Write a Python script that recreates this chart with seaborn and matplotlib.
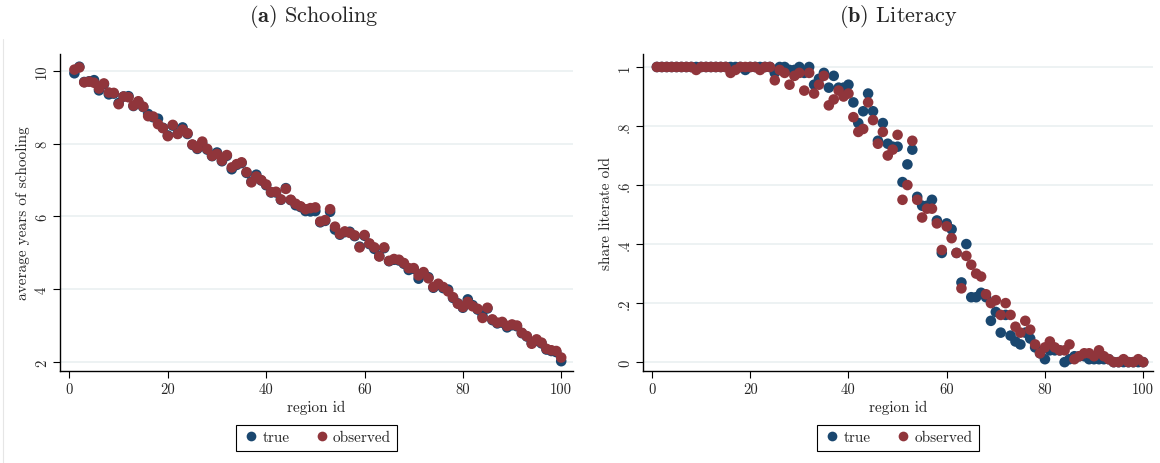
import numpy as np
import pandas as pd
import matplotlib
matplotlib.use("Agg")
import matplotlib.pyplot as plt
from matplotlib.lines import Line2D
import seaborn as sns

# ---------------- data ----------------
region_id = list(range(1, 101))

school_observed = [
    10.04, 10.10, 9.69, 9.71, 9.68, 9.52, 9.66, 9.41, 9.40, 9.09,
    9.30, 9.28, 9.05, 9.17, 9.02, 8.76, 8.75, 8.54, 8.43, 8.21,
    8.52, 8.27, 8.39, 8.29, 7.98, 7.88, 8.06, 7.86, 7.67, 7.72,
    7.54, 7.69, 7.35, 7.44, 7.49, 7.22, 6.94, 7.10, 7.00, 6.88,
    6.67, 6.68, 6.47, 6.76, 6.46, 6.35, 6.28, 6.20, 6.23, 6.25,
    5.86, 5.90, 6.20, 5.72, 5.52, 5.59, 5.55, 5.48, 5.15, 5.49,
    5.26, 5.15, 4.90, 5.15, 4.78, 4.83, 4.81, 4.72, 4.58, 4.58,
    4.38, 4.47, 4.30, 4.06, 4.15, 4.06, 3.94, 3.78, 3.60, 3.51,
    3.65, 3.53, 3.46, 3.21, 3.49, 3.17, 3.08, 3.10, 2.99, 3.03,
    3.00, 2.80, 2.71, 2.50, 2.62, 2.53, 2.36, 2.32, 2.30, 2.12,
]
school_true = [
    9.94, 10.12, 9.70, 9.72, 9.75, 9.47, 9.64, 9.36, 9.38, 9.12,
    9.30, 9.31, 9.04, 9.15, 9.01, 8.82, 8.73, 8.69, 8.44, 8.23,
    8.50, 8.28, 8.45, 8.27, 7.97, 7.86, 8.00, 7.84, 7.66, 7.76,
    7.52, 7.67, 7.30, 7.42, 7.47, 7.20, 6.96, 7.15, 6.99, 6.86,
    6.66, 6.66, 6.46, 6.78, 6.45, 6.31, 6.26, 6.15, 6.14, 6.15,
    5.84, 5.88, 6.13, 5.64, 5.50, 5.57, 5.58, 5.46, 5.17, 5.47,
    5.24, 5.11, 4.91, 5.13, 4.77, 4.81, 4.79, 4.70, 4.53, 4.56,
    4.29, 4.45, 4.33, 4.04, 4.13, 4.03, 3.99, 3.76, 3.61, 3.49,
    3.72, 3.56, 3.44, 3.26, 3.47, 3.15, 3.06, 3.08, 2.95, 3.01,
    2.98, 2.79, 2.70, 2.52, 2.58, 2.51, 2.34, 2.30, 2.27, 2.02,
]

lit_true = [
    1.00, 1.00, 1.00, 1.00, 1.00, 1.00, 1.00, 1.00, 1.00, 1.00,
    1.00, 1.00, 1.00, 1.00, 1.00, 1.00, 1.00, 1.00, 0.99, 1.00,
    1.00, 1.00, 1.00, 1.00, 0.98, 1.00, 1.00, 0.99, 0.99, 1.00,
    0.98, 1.00, 0.94, 0.96, 0.98, 0.93, 0.97, 0.93, 0.93, 0.94,
    0.88, 0.81, 0.85, 0.91, 0.85, 0.75, 0.81, 0.74, 0.73, 0.73,
    0.61, 0.67, 0.72, 0.56, 0.53, 0.53, 0.55, 0.48, 0.37, 0.47,
    0.45, 0.37, 0.27, 0.40, 0.22, 0.22, 0.235, 0.22, 0.14, 0.17,
    0.10, 0.16, 0.09, 0.07, 0.06, 0.10, 0.08, 0.05, 0.03, 0.01,
    0.04, 0.04, 0.04, 0.00, 0.01, 0.02, 0.02, 0.02, 0.01, 0.01,
    0.01, 0.01, 0.01, 0.00, 0.00, 0.00, 0.00, 0.00, 0.00, 0.00,
]
lit_observed = [
    1.00, 1.00, 1.00, 1.00, 1.00, 1.00, 1.00, 1.00, 0.99, 1.00,
    1.00, 1.00, 1.00, 1.00, 1.00, 0.98, 0.99, 1.00, 1.00, 1.00,
    1.00, 0.99, 1.00, 1.00, 0.955, 0.99, 0.98, 0.94, 0.97, 0.98,
    0.92, 0.98, 0.91, 0.94, 0.97, 0.87, 0.89, 0.92, 0.90, 0.91,
    0.83, 0.78, 0.79, 0.88, 0.82, 0.74, 0.78, 0.70, 0.72, 0.77,
    0.55, 0.60, 0.75, 0.55, 0.49, 0.52, 0.52, 0.47, 0.38, 0.46,
    0.42, 0.37, 0.25, 0.36, 0.33, 0.30, 0.29, 0.23, 0.20, 0.21,
    0.16, 0.20, 0.16, 0.12, 0.10, 0.14, 0.11, 0.06, 0.03, 0.05,
    0.07, 0.05, 0.04, 0.04, 0.06, 0.01, 0.02, 0.03, 0.03, 0.02,
    0.04, 0.02, 0.01, 0.00, 0.00, 0.01, 0.00, 0.00, 0.01, 0.00,
]

series_names = ["true", "observed"]
x_ticks = [0, 20, 40, 60, 80, 100]
school_ticks = [2, 4, 6, 8, 10]
school_ticklabels = ["2", "4", "6", "8", "10"]
lit_ticks = [0, 0.2, 0.4, 0.6, 0.8, 1.0]
lit_ticklabels = ["0", ".2", ".4", ".6", ".8", "1"]

# ---------------- style ----------------
sns.set_theme(style="white")
plt.rcParams["font.family"] = ["cmr10", "DejaVu Serif"]
plt.rcParams["axes.formatter.use_mathtext"] = True
plt.rcParams["mathtext.fontset"] = "cm"

NAVY = "#1a476f"
MAROON = "#90353b"
GRID = "#e8eff0"
palette = {"true": NAVY, "observed": MAROON}


def long_df(t, o):
    return pd.DataFrame({
        "region id": region_id * 2,
        "value": list(t) + list(o),
        "series": ["true"] * len(t) + ["observed"] * len(o),
    })


fig = plt.figure(figsize=(11.6, 4.64), dpi=100)
ax1 = fig.add_axes([60 / 1160, 92 / 464, 513 / 1160, 317 / 464])
ax2 = fig.add_axes([643 / 1160, 92 / 464, 510 / 1160, 317 / 464])

panels = [
    (ax1, long_df(school_true, school_observed), (1.75, 10.47), school_ticks,
     school_ticklabels, "average years of schooling", (-1.93, 102.4)),
    (ax2, long_df(lit_true, lit_observed), (-0.03, 1.044), lit_ticks,
     lit_ticklabels, "share literate old", (-1.83, 102.0)),
]

for ax, df, ylim, yt, ytl, ylab, xlim in panels:
    sns.scatterplot(data=df, x="region id", y="value", hue="series",
                    hue_order=series_names, palette=palette, s=58,
                    linewidth=0, edgecolor="none", alpha=1, ax=ax,
                    legend=False, zorder=3)
    ax.set_xlim(*xlim)
    ax.set_ylim(*ylim)
    ax.set_xticks(x_ticks)
    ax.set_xticklabels([str(v) for v in x_ticks])
    ax.set_yticks(yt)
    ax.set_yticklabels(ytl, rotation=90, va="center")
    ax.set_xlabel("region id", fontsize=11, labelpad=3)
    ax.set_ylabel(ylab, fontsize=11, labelpad=4)
    ax.tick_params(axis="both", which="major", direction="out", length=5,
                   width=0.8, color="black", labelsize=10.5, pad=3,
                   bottom=True, left=True)
    ax.grid(axis="y", color=GRID, linewidth=1.1, zorder=0)
    ax.grid(axis="x", visible=False)
    ax.set_axisbelow(True)
    for side in ["top", "right"]:
        ax.spines[side].set_visible(False)
    for side in ["left", "bottom"]:
        ax.spines[side].set_visible(True)
        ax.spines[side].set_color("black")
        ax.spines[side].set_linewidth(1.0)
    handles = [Line2D([], [], marker="o", linestyle="none", markersize=7,
                      markerfacecolor=palette[n], markeredgewidth=0)
               for n in series_names]
    leg = ax.legend(handles, series_names, loc="upper center",
                    bbox_to_anchor=(0.5, -0.145), ncol=2, frameon=True,
                    fancybox=False, framealpha=1, edgecolor="black",
                    fontsize=11, handletextpad=0.15, columnspacing=1.5,
                    borderpad=0.4, handlelength=1.2)
    leg.get_frame().set_linewidth(0.8)

# panel captions
fig.text(314 / 1160, 1 - 17 / 464, r"$\mathbf{(a)}$ Schooling", ha="center",
         va="center", fontsize=16)
fig.text(898 / 1160, 1 - 17 / 464, r"$\mathbf{(b)}$ Literacy", ha="center",
         va="center", fontsize=16)

# faint graph-region outline on the left
fig.add_artist(Line2D([3 / 1160, 3 / 1160], [0, 1 - 40 / 464],
                      transform=fig.transFigure, color="#e6e6e6", linewidth=0.8))

fig.savefig("out.png", dpi=100, facecolor="white")
